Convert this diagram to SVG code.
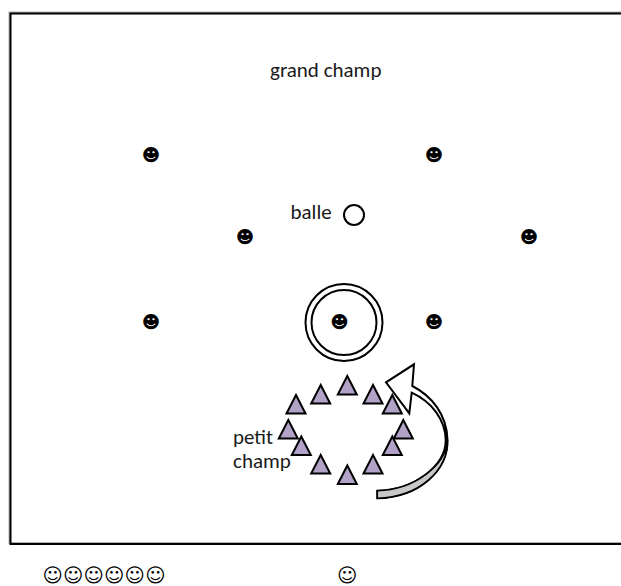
<svg xmlns="http://www.w3.org/2000/svg" width="621" height="586" viewBox="0 0 621 586">
<style>
.t{font-family:"Carlito","Lato",sans-serif;font-size:21px;fill:#1a1a1a}
.b{font-family:"DejaVu Sans",sans-serif;font-size:17.500px;fill:#000;text-anchor:middle}
.w{font-family:"DejaVu Sans",sans-serif;font-size:19.500px;fill:#000}
.tri{fill:#b2a2c7;stroke:#000;stroke-width:2;stroke-linejoin:miter}
.c{fill:none;stroke:#000;stroke-width:2}
.f{fill:none;stroke-linejoin:miter}
</style>
<defs><polygon id="tr" class="tri" points="0,-9.500 -9.500,9 9.500,9"/></defs>
<g id="field"><path class="f" d="M640,12.500H9.500V543H640" stroke="#b0b0b0" stroke-width="2"/><path class="f" d="M640,13.500H10.500V544H640" stroke="#000" stroke-width="2"/></g>
<g id="label-grand"><text class="t" x="270" y="77">grand champ</text></g>
<g id="label-balle"><text class="t" x="290.500" y="219">balle</text></g>
<g id="ball"><circle class="c" cx="354" cy="215" r="10"/></g>
<g id="p1"><text class="b" x="151" y="161">☻</text></g>
<g id="p2"><text class="b" x="434" y="161">☻</text></g>
<g id="p3"><text class="b" x="245" y="243">☻</text></g>
<g id="p4"><text class="b" x="529" y="243">☻</text></g>
<g id="p5"><text class="b" x="151" y="328">☻</text></g>
<g id="p6"><text class="b" x="434" y="328">☻</text></g>
<g id="p7"><circle class="c" cx="344" cy="322.500" r="38.500"/><circle class="c" cx="344" cy="322.500" r="32.500"/><text class="b" x="339.500" y="328">☻</text></g>
<g id="triangles">
<use href="#tr" x="296" y="404.500"/>
<use href="#tr" x="320.700" y="394.500"/>
<use href="#tr" x="347.300" y="385.500"/>
<use href="#tr" x="373" y="394.500"/>
<use href="#tr" x="392.300" y="404.500"/>
<use href="#tr" x="403.300" y="429.500"/>
<use href="#tr" x="392.300" y="446"/>
<use href="#tr" x="373" y="464.500"/>
<use href="#tr" x="347.300" y="475"/>
<use href="#tr" x="320.700" y="464.500"/>
<use href="#tr" x="288.300" y="429.500"/>
<use href="#tr" x="301.300" y="446"/>
</g>
<g id="connectors">
<path d="M377.300,498.300C420,497 448,470 447.500,440C447,415 432,396 412.300,386L414,364.300L386,382.300L409.300,413.300L411.700,392.700C432,402 445.500,420 445.700,440C446,465 415,490 377.300,490.700Z" fill="#fff" stroke="#000" stroke-width="2" stroke-linejoin="miter"/>
<path d="M377.300,498.300C420,497 448,470 447.500,440C446,465 415,490 377.300,490.700Z" fill="#c8c8c8" stroke="#000" stroke-width="1.500"/>
</g>
<g id="label-petit"><text class="t" x="233" y="444">petit</text><text class="t" x="233" y="468.300">champ</text></g>
<g id="legend"><text class="w" x="42.500" y="581.500" letter-spacing="0.200">☺☺☺☺☺☺</text><text class="w" x="337" y="581.500">☺</text></g>
</svg>
